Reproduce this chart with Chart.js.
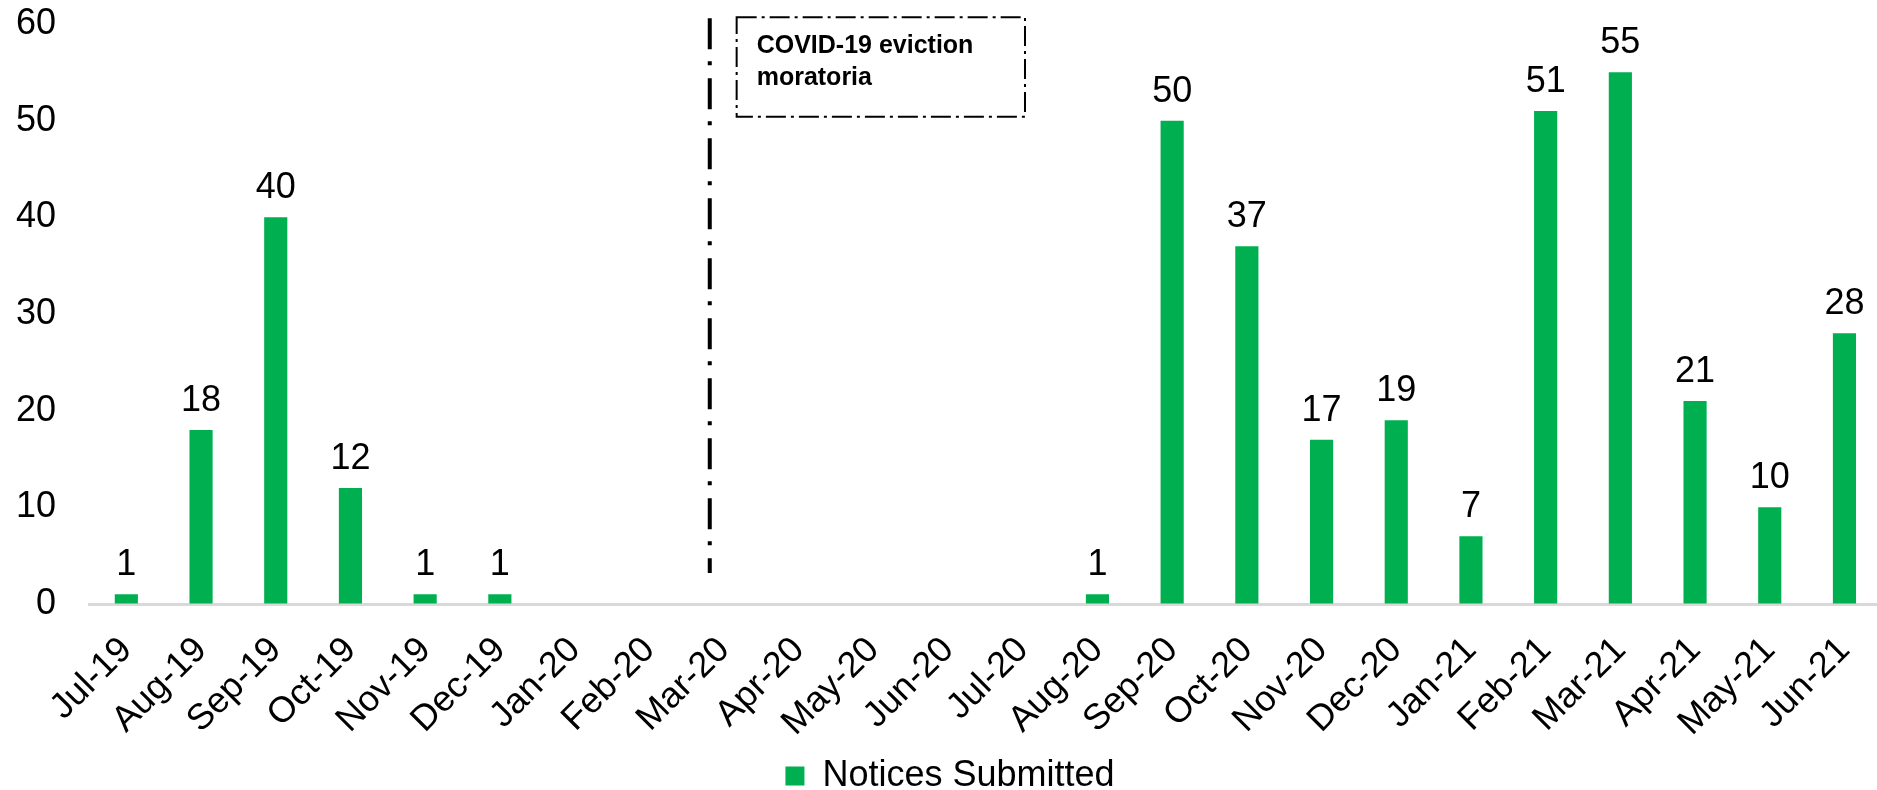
<!DOCTYPE html>
<html>
<head>
<meta charset="utf-8">
<script src="https://cdn.jsdelivr.net/npm/chart.js@4/dist/chart.umd.min.js"></script>
<style>
  html, body { margin: 0; padding: 0; background: #fff; overflow: hidden; }
  #wrap { width: 1900px; height: 808px; position: relative; }
</style>
</head>
<body>
<div id="wrap"><canvas id="c"></canvas></div>
<script>
// Monthly eviction notices, Jul 2019 – Jun 2021
const months = ['Jul-19','Aug-19','Sep-19','Oct-19','Nov-19','Dec-19','Jan-20','Feb-20','Mar-20','Apr-20','May-20','Jun-20',
                'Jul-20','Aug-20','Sep-20','Oct-20','Nov-20','Dec-20','Jan-21','Feb-21','Mar-21','Apr-21','May-21','Jun-21'];
const notices = [1, 18, 40, 12, 1, 1, 0, 0, 0, 0, 0, 0, 0, 1, 50, 37, 17, 19, 7, 51, 55, 21, 10, 28];
const yTicks = [0, 10, 20, 30, 40, 50, 60];

// Moratorium marker: start position (category index) and the callout text
const moratoriumStart = 7.81;
const moratoriumLine = { yFrom: 60.6, yTo: 3.2 };
const calloutBox = { x0: 8.17, x1: 12.03, y0: 60.7, y1: 50.4 };
const calloutText = ['COVID-19 eviction', 'moratoria'];

const FONT = '"Liberation Sans", Arial, sans-serif';
const GREEN = '#00B050';

const valueLabels = {
  id: 'valueLabels',
  afterDatasetsDraw(chart) {
    const { ctx } = chart;
    const meta = chart.getDatasetMeta(0);
    ctx.save();
    ctx.font = '36px ' + FONT;
    ctx.fillStyle = '#000';
    ctx.textAlign = 'center';
    ctx.textBaseline = 'alphabetic';
    meta.data.forEach((bar, i) => {
      const v = notices[i];
      if (!v) return;
      ctx.fillText(String(v), bar.x, bar.y - 19);
    });
    ctx.restore();
  }
};

const moratorium = {
  id: 'moratorium',
  afterDraw(chart) {
    const { ctx } = chart;
    const xs = chart.scales.x, ys = chart.scales.y;
    ctx.save();
    // vertical dash-dot line
    const lx = xs.getPixelForValue(moratoriumStart);
    ctx.strokeStyle = '#000';
    ctx.lineWidth = 4;
    ctx.setLineDash([31, 12, 4, 13]);
    ctx.beginPath();
    ctx.moveTo(lx, ys.getPixelForValue(moratoriumLine.yFrom));
    ctx.lineTo(lx, ys.getPixelForValue(moratoriumLine.yTo));
    ctx.stroke();
    // callout box
    const bx0 = xs.getPixelForValue(calloutBox.x0), bx1 = xs.getPixelForValue(calloutBox.x1);
    const by0 = ys.getPixelForValue(calloutBox.y0), by1 = ys.getPixelForValue(calloutBox.y1);
    ctx.lineWidth = 2;
    ctx.setLineDash([20, 5, 3, 5]);
    ctx.strokeRect(bx0, by0, bx1 - bx0, by1 - by0);
    ctx.setLineDash([]);
    ctx.font = 'bold 25px ' + FONT;
    ctx.fillStyle = '#000';
    ctx.textAlign = 'left';
    ctx.textBaseline = 'alphabetic';
    calloutText.forEach((t, i) => ctx.fillText(t, bx0 + 20, by0 + 36 + i * 32));
    ctx.restore();
  }
};

new Chart(document.getElementById('c'), {
  type: 'bar',
  data: {
    labels: months,
    datasets: [{
      label: 'Notices Submitted',
      data: notices,
      backgroundColor: GREEN,
      borderWidth: 0,
      categoryPercentage: 1,
      barPercentage: 0.31
    }]
  },
  options: {
    responsive: true,
    maintainAspectRatio: false,
    animation: false,
    layout: { padding: { top: 24, right: 0, bottom: 4, left: 0 } },
    plugins: {
      legend: {
        position: 'bottom',
        labels: {
          font: { family: FONT, size: 36 },
          color: '#000',
          boxWidth: 19,
          boxHeight: 19,
          padding: 6
        }
      },
      tooltip: { enabled: false }
    },
    scales: {
      x: {
        afterFit(scale) { scale.height = 148; },
        grid: { display: false, drawTicks: false },
        border: { display: true, color: '#d9d9d9', width: 3 },
        ticks: {
          font: { family: FONT, size: 36 },
          color: '#000',
          minRotation: 45,
          maxRotation: 45,
          autoSkip: false,
          padding: 25
        }
      },
      y: {
        min: 0,
        max: 60,
        afterBuildTicks(scale) { scale.ticks = yTicks.map(v => ({ value: v })); },
        afterFit(scale) { scale.width = 89; },
        grid: {
          display: true,
          drawOnChartArea: false,
          drawTicks: true,
          tickLength: 33,
          color: 'rgba(0,0,0,0)',
          tickColor: 'rgba(0,0,0,0)'
        },
        border: { display: false },
        ticks: {
          font: { family: FONT, size: 36 },
          color: '#000',
          padding: 0
        }
      }
    }
  },
  plugins: [valueLabels, moratorium]
});
</script>
</body>
</html>
